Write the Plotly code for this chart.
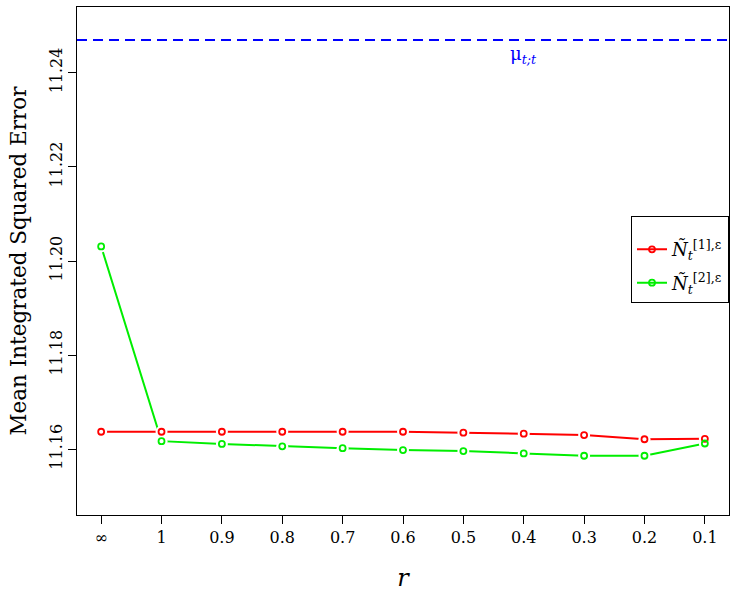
import plotly.graph_objects as go

# ---- data ----
r_labels = ["∞", "1", "0.9", "0.8", "0.7", "0.6", "0.5", "0.4", "0.3", "0.2", "0.1"]
r_pos = list(range(1, 12))
mise_1 = [11.1637, 11.1637, 11.1637, 11.1637, 11.1637, 11.1637, 11.1635, 11.1633, 11.1630, 11.1621, 11.1622]
mise_2 = [11.2031, 11.1617, 11.1611, 11.1606, 11.1602, 11.1598, 11.1596, 11.1591, 11.1586, 11.1586, 11.1612]
mu_tt = 11.2470
y_ticks = [11.16, 11.18, 11.20, 11.22, 11.24]

RED = "#FF0000"
GREEN = "#00EE00"
BLUE = "#0000FF"
FONT = "DejaVu Serif"

fig = go.Figure()

series = [
    (mise_1, RED, "<i>Ñ</i><sub><i>t</i></sub><sup>[1],ε</sup>", "g1"),
    (mise_2, GREEN, "<i>Ñ</i><sub><i>t</i></sub><sup>[2],ε</sup>", "g2"),
]

# lines (carry the legend entries)
for vals, col, name, grp in series:
    fig.add_trace(go.Scatter(x=r_pos, y=vals, mode="lines+markers", name=name, legendgroup=grp,
                             line=dict(color=col, width=2),
                             marker=dict(symbol="circle-open", size=6, color=col, line=dict(width=1.8, color=col))))
# white gaps around points (R type="b")
for vals, col, name, grp in series:
    fig.add_trace(go.Scatter(x=r_pos, y=vals, mode="markers", legendgroup=grp,
                             marker=dict(symbol="circle", size=12, color="white", line=dict(width=0)),
                             showlegend=False, hoverinfo="skip"))
# open circles on top
for vals, col, name, grp in series:
    fig.add_trace(go.Scatter(x=r_pos, y=vals, mode="markers", showlegend=False, legendgroup=grp,
                             marker=dict(symbol="circle-open", size=6, color=col, line=dict(width=1.8, color=col))))

fig.add_shape(type="line", xref="paper", x0=0, x1=1, yref="y", y0=mu_tt, y1=mu_tt,
              line=dict(color=BLUE, width=2, dash="10px,6px"))
fig.add_annotation(x=8, y=mu_tt, xref="x", yref="y", text="μ<sub><i>t;t</i></sub>",
                   showarrow=False, yanchor="top", yshift=-1,
                   font=dict(family=FONT, size=18, color=BLUE))

fig.update_layout(
    width=731, height=611,
    margin=dict(l=77, r=2, t=7, b=96, autoexpand=False),
    paper_bgcolor="white", plot_bgcolor="white",
    font=dict(family=FONT, size=16, color="black"),
    legend=dict(x=1.0, y=0.589, xanchor="right", yanchor="top",
                bordercolor="black", borderwidth=1, bgcolor="white",
                font=dict(family=FONT, size=18), itemwidth=30, tracegroupgap=7,
                traceorder="grouped",
                title=dict(text=" ", font=dict(family=FONT, size=11))),
    xaxis=dict(range=[0.6, 11.4], tickvals=r_pos, ticktext=r_labels, automargin=False,
               showgrid=False, zeroline=False, showline=True, linecolor="black", linewidth=1,
               mirror=True, ticks="outside", ticklen=8, tickcolor="black",
               tickfont=dict(family=FONT, size=16),
               title=dict(text="<i>r</i>", font=dict(family=FONT, size=24), standoff=22)),
    yaxis=dict(range=[11.146, 11.254], tickvals=y_ticks, tickformat=".2f", automargin=False,
               showgrid=False, zeroline=False, showline=True, linecolor="black", linewidth=1,
               mirror=True, ticks="outside", ticklen=8, tickcolor="black", tickangle=-90,
               tickfont=dict(family=FONT, size=16),
               title=dict(text="Mean Integrated Squared Error", font=dict(family=FONT, size=21.5), standoff=14)),
)

fig.write_html("out.html", config={"displayModeBar": False},
               post_script="document.body.style.margin='0';document.body.style.padding='0';")
